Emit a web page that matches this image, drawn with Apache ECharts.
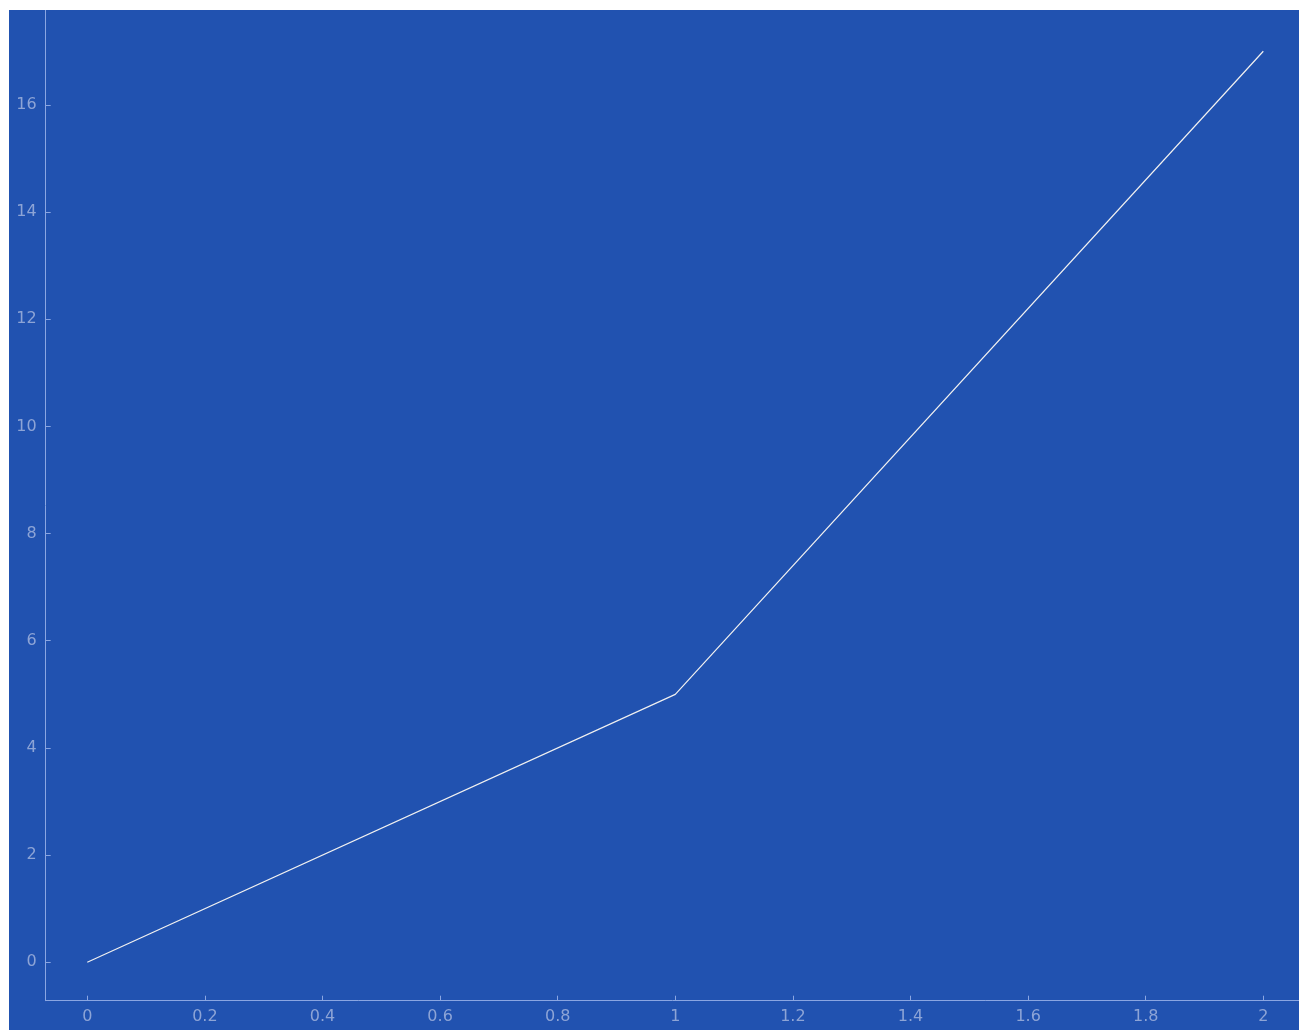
<!DOCTYPE html>
<html>
<head>
<meta charset="utf-8">
<script src="https://cdn.jsdelivr.net/npm/echarts@6/dist/echarts.min.js"></script>
<style>
html,body{margin:0;padding:0;background:#ffffff;}
#chart{position:absolute;left:9px;top:10px;width:1290px;height:1020px;}
</style>
</head>
<body>
<div id="chart"></div>
<script>
const xValues = [0, 1, 2];
const yValues = [0, 5, 17];
const xTicks = [0, 0.2, 0.4, 0.6, 0.8, 1, 1.2, 1.4, 1.6, 1.8, 2];
const yTicks = [0, 2, 4, 6, 8, 10, 12, 14, 16];

const chart = echarts.init(document.getElementById('chart'));
const labelColor = '#8da4d6';
const axisColor = '#8aa6e2';
chart.setOption({
  backgroundColor: '#2152b0',
  animation: false,
  grid: {left: 36.7, top: 0, right: 0, bottom: 29.3, containLabel: false},
  xAxis: {
    type: 'value',
    min: -0.0707, max: 2.0607,
    interval: 0.2,
    axisLine: {show: true, onZero: false, lineStyle: {color: axisColor, width: 1}},
    axisTick: {show: true, inside: true, length: 5, lineStyle: {color: axisColor}, customValues: xTicks},
    axisLabel: {color: labelColor, fontSize: 16, fontFamily: 'DejaVu Sans', margin: 8, customValues: xTicks,
      formatter: v => String(+v.toFixed(1))},
    splitLine: {show: false}
  },
  yAxis: {
    type: 'value',
    min: -0.717, max: 17.77,
    axisLine: {show: true, onZero: false, lineStyle: {color: axisColor, width: 1}},
    axisTick: {show: true, inside: true, length: 5, lineStyle: {color: axisColor}, customValues: yTicks},
    axisLabel: {color: labelColor, fontSize: 16, fontFamily: 'DejaVu Sans', margin: 9, customValues: yTicks},
    splitLine: {show: false}
  },
  series: [{
    type: 'line',
    data: xValues.map((x, i) => [x, yValues[i]]),
    showSymbol: false,
    lineStyle: {color: '#f0f0f0', width: 1.2},
    z: 3
  }]
});
</script>
</body>
</html>
